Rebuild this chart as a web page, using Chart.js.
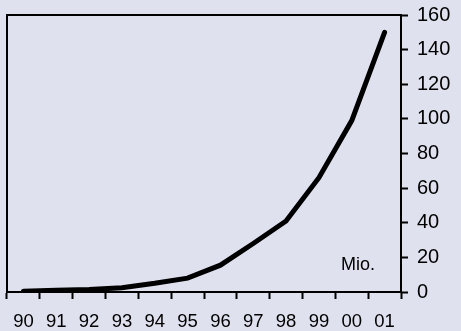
<!DOCTYPE html>
<html>
<head>
<meta charset="utf-8">
<script src="https://cdn.jsdelivr.net/npm/chart.js@4/dist/chart.umd.min.js"></script>
<style>
html,body{margin:0;padding:0;background:#dfe1ee;}
#wrap{width:461px;height:331px;}
</style>
</head>
<body>
<div id="wrap"><canvas id="c" width="461" height="331"></canvas></div>
<script>
const years = ["90","91","92","93","94","95","96","97","98","99","00","01"];
const values = [0.5, 1, 1.5, 2.5, 5, 8, 15.5, 28, 41, 66, 99, 150];
const yTicks = [0,20,40,60,80,100,120,140,160];
const unitLabel = "Mio.";

const framePlugin = {
  id: 'frame',
  afterDraw(chart) {
    const {ctx, chartArea: a, scales} = chart;
    ctx.save();
    ctx.strokeStyle = '#000';
    ctx.lineWidth = 2;
    ctx.beginPath();
    ctx.moveTo(a.left, a.bottom);
    ctx.lineTo(a.left, a.top);
    ctx.lineTo(a.right, a.top);
    ctx.stroke();
    ctx.fillStyle = '#000';
    ctx.font = '18px "Liberation Sans", Arial, sans-serif';
    ctx.textAlign = 'right';
    ctx.textBaseline = 'middle';
    ctx.fillText(unitLabel, a.right - 26, scales.y.getPixelForValue(15.5));
    ctx.restore();
  }
};

new Chart(document.getElementById('c'), {
  type: 'line',
  data: {
    labels: years,
    datasets: [{
      data: values,
      borderColor: '#000',
      borderWidth: 5,
      pointRadius: 0,
      tension: 0,
      borderCapStyle: 'round',
      fill: false
    }]
  },
  options: {
    responsive: false,
    animation: false,
    devicePixelRatio: 1,
    layout: {padding: {left: 7, top: 15, right: 0, bottom: 0}},
    plugins: {legend: {display: false}, tooltip: {enabled: false}},
    scales: {
      x: {
        type: 'category',
        offset: true,
        grid: {offset: true, drawOnChartArea: false, drawTicks: true, tickLength: 7, tickWidth: 2, tickColor: '#000'},
        border: {display: true, color: '#000', width: 2},
        ticks: {color: '#000', font: {family: '"Liberation Sans", Arial, sans-serif', size: 18.5}, padding: 12, maxRotation: 0, autoSkip: false},
        afterFit(s) { s.height = 39; s.paddingLeft = 0; s.paddingRight = 0; }
      },
      y: {
        position: 'right',
        min: 0, max: 160,
        afterBuildTicks(s) { s.ticks = yTicks.map(v => ({value: v})); },
        grid: {drawOnChartArea: false, drawTicks: true, tickLength: 7, tickWidth: 2, tickColor: '#000'},
        border: {display: true, color: '#000', width: 2},
        ticks: {color: '#000', font: {family: '"Liberation Sans", Arial, sans-serif', size: 20}, padding: 9},
        afterFit(s) { s.width = 60; s.paddingTop = 0; s.paddingBottom = 0; }
      }
    }
  },
  plugins: [framePlugin]
});
</script>
</body>
</html>
